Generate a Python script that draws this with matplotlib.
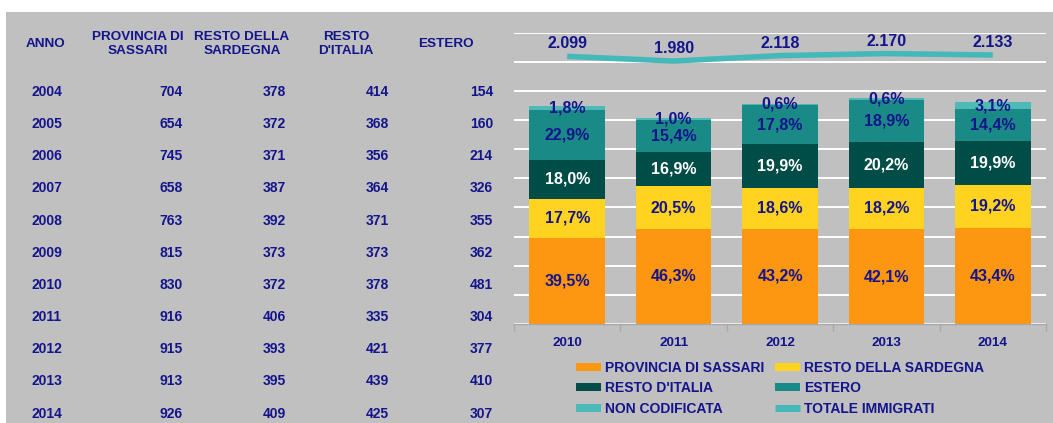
import numpy as np
import matplotlib
matplotlib.use("Agg")
import matplotlib.pyplot as plt
from matplotlib.patches import Rectangle, Patch
from matplotlib.lines import Line2D

plt.rcParams['font.family'] = ['Liberation Sans', 'DejaVu Sans']

# ---- data ----
anni = [2004, 2005, 2006, 2007, 2008, 2009, 2010, 2011, 2012, 2013, 2014]
provincia_sassari = [704, 654, 745, 658, 763, 815, 830, 916, 915, 913, 926]
resto_sardegna = [378, 372, 371, 387, 392, 373, 372, 406, 393, 395, 409]
resto_italia = [414, 368, 356, 364, 371, 373, 378, 335, 421, 439, 425]
estero = [154, 160, 214, 326, 355, 362, 481, 304, 377, 410, 307]

chart_years = ['2010', '2011', '2012', '2013', '2014']
non_codificata = [38, 19, 12, 13, 66]
totale_immigrati = [2099, 1980, 2118, 2170, 2133]

headers = ['ANNO', 'PROVINCIA DI\nSASSARI', 'RESTO DELLA\nSARDEGNA', "RESTO\nD'ITALIA", 'ESTERO']
series_names = ['PROVINCIA DI SASSARI', 'RESTO DELLA SARDEGNA', "RESTO D'ITALIA",
                'ESTERO', 'NON CODIFICATA']
line_name = 'TOTALE IMMIGRATI'

# ---- style ----
W, H = 1053, 423
DPI = 100
BG = '#C0C0C0'
NAVY = '#14148C'
colors = ['#FD9611', '#FFD320', '#004C47', '#1A8A87', '#4DBAB8']
line_color = '#45B9B9'

fig = plt.figure(figsize=(W / DPI, H / DPI), dpi=DPI)
fig.patch.set_facecolor('white')


def fx(x):
    return x / W


def fy(y):
    return 1 - y / H


fig.patches.append(Rectangle((fx(6), 0), 1 - fx(6), fy(12), transform=fig.transFigure,
                             facecolor=BG, edgecolor='none', zorder=-10))

# ---- table ----
hdr_x = [46, 138, 242, 346, 446]
for hx, h in zip(hdr_x, headers):
    fig.text(fx(hx), fy(44), h, ha='center', va='center', fontsize=9.7,
             fontweight='bold', color=NAVY, linespacing=1.2)

col_right = [183, 286, 389, 493]
cols = [provincia_sassari, resto_sardegna, resto_italia, estero]
for i, a in enumerate(anni):
    yy = 92 + i * 32.15
    fig.text(fx(47), fy(yy), str(a), ha='center', va='center', fontsize=10,
             fontweight='bold', color=NAVY)
    for cx, col in zip(col_right, cols):
        fig.text(fx(cx), fy(yy), str(col[i]), ha='right', va='center', fontsize=10,
                 fontweight='bold', color=NAVY)

# ---- chart ----
ax_left, ax_right, ax_top, ax_bot = 514, 1046, 32.7, 324
ax = fig.add_axes([fx(ax_left), fy(ax_bot), (ax_right - ax_left) / W, (ax_bot - ax_top) / H])
ax.set_facecolor('none')
ax.set_xlim(-0.5, 4.5)
ax.set_ylim(0, 2800)
ax.set_yticks(np.arange(0, 2801, 280))
ax.yaxis.grid(True, color='white', linewidth=1.4)
ax.set_axisbelow(True)
ax.tick_params(axis='y', length=0, labelleft=False)
for s in ['left', 'right', 'top']:
    ax.spines[s].set_visible(False)
ax.spines['bottom'].set_color('#A8A8A8')
ax.spines['bottom'].set_linewidth(1.0)

x = np.arange(len(chart_years))
idx = [anni.index(int(y)) for y in chart_years]
stack_vals = [
    [provincia_sassari[i] for i in idx],
    [resto_sardegna[i] for i in idx],
    [resto_italia[i] for i in idx],
    [estero[i] for i in idx],
    non_codificata,
]
tot = np.array(totale_immigrati, dtype=float)
bottom = np.zeros(len(x))
label_colors = [NAVY, NAVY, 'white', NAVY, NAVY]
for vals, c, lc in zip(stack_vals, colors, label_colors):
    vals = np.array(vals, dtype=float)
    ax.bar(x, vals, 0.71, bottom=bottom, color=c, edgecolor='none', zorder=2)
    for xi, b, v, t in zip(x, bottom, vals, tot):
        txt = f"{v / t * 100:.1f}%".replace('.', ',')
        ax.text(xi, b + v / 2, txt, ha='center', va='center', fontsize=11.5,
                fontweight='bold', color=lc, zorder=5)
    bottom = bottom + vals

ax.set_xticks(x)
ax.set_xticklabels(chart_years, fontsize=9.7, fontweight='bold', color=NAVY)
ax.set_xticks(np.arange(-0.5, 4.6, 1), minor=True)
ax.tick_params(axis='x', which='major', length=0, pad=9)
ax.tick_params(axis='x', which='minor', length=5, color='#A8A8A8', width=1)

ax2 = ax.twinx()
ax2.set_ylim(-4700, 2700)
ax2.axis('off')
ln, = ax2.plot(x, totale_immigrati, color=line_color, linewidth=4,
               solid_capstyle='butt', solid_joinstyle='round', zorder=3)
for xi, v in zip(x, totale_immigrati):
    ax2.annotate(f"{v:,}".replace(',', '.'), (xi, v), xytext=(0, 9),
                 textcoords='offset points', ha='center', va='center',
                 fontsize=11.5, fontweight='bold', color=NAVY)

# legend (row-major order in 2 columns)
ph = [Patch(facecolor=c, edgecolor='none') for c in colors]
lh = Line2D([], [], color=line_color, linewidth=5, solid_capstyle='butt')
handles = [ph[0], ph[2], ph[4], ph[1], ph[3], lh]
labels = [series_names[0], series_names[2], series_names[4],
          series_names[1], series_names[3], line_name]
leg = fig.legend(handles, labels, ncol=2, loc='upper left',
                 bbox_to_anchor=(fx(576), fy(361)), frameon=False,
                 prop={'weight': 'bold', 'size': 10}, labelcolor=NAVY,
                 handlelength=1.8, handleheight=0.5, handletextpad=0.3,
                 columnspacing=0.75, labelspacing=0.45, borderpad=0,
                 borderaxespad=0)

fig.savefig('out.png', dpi=DPI, facecolor=fig.get_facecolor())
